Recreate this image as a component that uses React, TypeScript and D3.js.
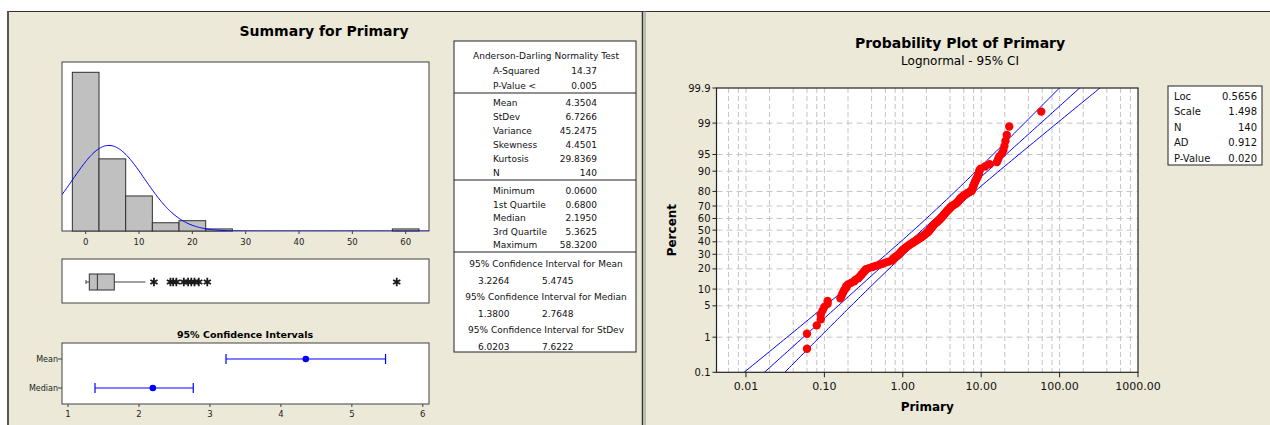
import React from 'react';
import * as d3 from 'd3';

const primary = [
  0.06, 0.06, 0.08, 0.09, 0.09, 0.095, 0.10, 0.11, 0.11, 0.16,
  0.165, 0.17, 0.175, 0.18, 0.19, 0.19, 0.20, 0.22, 0.24, 0.25,
  0.27, 0.28, 0.29, 0.30, 0.31, 0.32, 0.33, 0.34, 0.37, 0.41,
  0.45, 0.50, 0.55, 0.60, 0.66, 0.74, 0.74, 0.76, 0.79, 0.82,
  0.85, 0.88, 0.91, 0.93, 0.95, 0.97, 1.00, 1.03, 1.07, 1.10,
  1.14, 1.18, 1.22, 1.27, 1.32, 1.37, 1.42, 1.48, 1.54, 1.60,
  1.66, 1.72, 1.78, 1.84, 1.90, 1.96, 2.02, 2.08, 2.14, 2.18,
  2.21, 2.26, 2.30, 2.35, 2.40, 2.44, 2.48, 2.55, 2.62, 2.70,
  2.78, 2.86, 2.93, 3.00, 3.07, 3.14, 3.21, 3.28, 3.35, 3.42,
  3.50, 3.58, 3.66, 3.75, 3.85, 3.95, 4.05, 4.15, 4.30, 4.50,
  4.75, 4.90, 5.05, 5.18, 5.30, 5.38, 5.55, 5.75, 6.00, 6.30,
  6.60, 7.00, 7.55, 7.65, 7.75, 7.85, 7.95, 8.05, 8.20, 8.35,
  8.50, 8.70, 8.90, 9.10, 9.25, 9.40, 9.50, 9.80, 11.20, 12.80,
  15.90, 16.40, 17.00, 18.40, 19.20, 19.80, 20.40, 21.20, 22.80, 58.32,
];

const adLabels = ['A-Squared', 'P-Value <'];
const adValues = ['14.37', '0.005'];
const momentLabels = ['Mean', 'StDev', 'Variance', 'Skewness', 'Kurtosis', 'N'];
const momentValues = ['4.3504', '6.7266', '45.2475', '4.4501', '29.8369', '140'];
const quantLabels = ['Minimum', '1st Quartile', 'Median', '3rd Quartile', 'Maximum'];
const quantValues = ['0.0600', '0.6800', '2.1950', '5.3625', '58.3200'];
const ciTitles = ['95% Confidence Interval for Mean', '95% Confidence Interval for Median', '95% Confidence Interval for StDev'];
const ciLows = ['3.2264', '1.3800', '6.0203'];
const ciHighs = ['5.4745', '2.7648', '7.6222'];

const meanVal = 4.3504;
const sdVal = 6.7266;
const q1 = 0.68;
const medianVal = 2.195;
const q3 = 5.3625;

const intervalNames = ['Mean', 'Median'];
const intervalEst = [4.3504, 2.195];
const intervalLow = [3.2264, 1.38];
const intervalHigh = [5.4745, 2.7648];

const histTicks = [0, 10, 20, 30, 40, 50, 60];
const ciTicks = [1, 2, 3, 4, 5, 6];

const fitLoc = 0.5656;
const fitScale = 1.498;
const legendLabels = ['Loc', 'Scale', 'N', 'AD', 'P-Value'];
const legendValues = ['0.5656', '1.498', '140', '0.912', '0.020'];
const percentTicks = [0.1, 1, 5, 10, 20, 30, 40, 50, 60, 70, 80, 90, 95, 99, 99.9];
const logTicks = [0.01, 0.1, 1, 10, 100, 1000];
const logTickLabels = ['0.01', '0.10', '1.00', '10.00', '100.00', '1000.00'];
const gridMultiples = [2, 4, 6, 8, 10];

const BG = '#ECE9D8';
const FRAME = '#404040';
const FONT = 'DejaVu Sans';

// inverse standard normal cdf (Acklam)
function qnorm(p: number): number {
  const a = [-39.69683028665376, 220.9460984245205, -275.9285104469687, 138.357751867269, -30.66479806614716, 2.506628277459239];
  const b = [-54.47609879822406, 161.5858368580409, -155.6989798598866, 66.80131188771972, -13.28068155288572];
  const c = [-0.007784894002430293, -0.3223964580411365, -2.400758277161838, -2.549732539343734, 4.374664141464968, 2.938163982698783];
  const d = [0.007784695709041462, 0.3224671290700398, 2.445134137142996, 3.754408661907416];
  const pl = 0.02425;
  if (p < pl) {
    const q = Math.sqrt(-2 * Math.log(p));
    return (((((c[0] * q + c[1]) * q + c[2]) * q + c[3]) * q + c[4]) * q + c[5]) / ((((d[0] * q + d[1]) * q + d[2]) * q + d[3]) * q + 1);
  }
  if (p > 1 - pl) {
    const q = Math.sqrt(-2 * Math.log(1 - p));
    return -(((((c[0] * q + c[1]) * q + c[2]) * q + c[3]) * q + c[4]) * q + c[5]) / ((((d[0] * q + d[1]) * q + d[2]) * q + d[3]) * q + 1);
  }
  const q = p - 0.5;
  const r = q * q;
  return (((((a[0] * r + a[1]) * r + a[2]) * r + a[3]) * r + a[4]) * r + a[5]) * q / (((((b[0] * r + b[1]) * r + b[2]) * r + b[3]) * r + b[4]) * r + 1);
}

export default function App() {
  const n = primary.length;

  // ---------- summary panel ----------
  const hx0 = 62, hx1 = 429, hy0 = 62, hy1 = 231;
  const xHist = d3.scaleLinear().domain([-4.44, 64.37]).range([hx0, hx1]);
  const yHist = d3.scaleLinear().domain([0, 82]).range([hy1, hy0]);
  const bins = d3.bin().domain([-2.5, 62.5]).thresholds(d3.range(2.5, 60, 5))(primary);

  const normPdf = (x: number) => Math.exp(-0.5 * ((x - meanVal) / sdVal) ** 2) / (sdVal * Math.sqrt(2 * Math.PI));
  const curvePts = d3.range(-4.44, 64.4, 0.2).map((x) => [x, normPdf(x) * n * 5] as [number, number]);
  const curve = d3.line<[number, number]>().x((d) => xHist(d[0])).y((d) => yHist(d[1])).curve(d3.curveMonotoneX)(curvePts);

  const iqr = q3 - q1;
  const hiFence = q3 + 1.5 * iqr;
  const loFence = q1 - 1.5 * iqr;
  const inside = primary.filter((v) => v <= hiFence && v >= loFence);
  const whiskLo = d3.min(inside) as number;
  const whiskHi = d3.max(inside) as number;
  const outliers = primary.filter((v) => v > hiFence || v < loFence);
  const star = d3.symbol(d3.symbolAsterisk, 48)() as string;
  const bx0 = 259, bx1 = 303, bMid = 282;

  const cy0 = 343, cy1 = 404;
  const xCI = d3.scaleLinear().domain([0.915, 6.087]).range([hx0, hx1]);
  const yCI = d3.scalePoint().domain(intervalNames).range([359, 388]);

  // ---------- probability plot ----------
  const px0 = 716.5, px1 = 1138, py0 = 88, py1 = 372.3;
  const xP = d3.scaleLog().domain([Math.pow(10, -2.376), 1000]).range([px0, px1]);
  const zMax = -qnorm(0.001);
  const yP = d3.scaleLinear().domain([-zMax, zMax]).range([py1, py0]);
  const gridX: number[] = [];
  for (let k = -3; k <= 2; k++) {
    gridMultiples.forEach((m) => {
      const v = m * Math.pow(10, k);
      if (v > xP.domain()[0] && v < 999) gridX.push(v);
    });
  }
  const pts = primary.map((v, i) => ({ v, z: qnorm((i + 1 - 0.3) / (n + 0.4)) }));
  const zs = d3.range(-zMax - 0.2, zMax + 0.2, 0.05);
  const band = (k: number) =>
    d3.line<number>()
      .x((z) => xP(Math.exp(fitLoc + fitScale * z + k * 1.96 * fitScale * Math.sqrt((1 + (z * z) / 2) / n))))
      .y((z) => yP(z))(zs);

  return (
    <div style={{ position: 'absolute', left: 0, top: 0 }}>
      <svg width={1270} height={425} style={{ display: 'block', fontFamily: FONT }}>
        <defs>
          <clipPath id="probClip">
            <rect x={px0} y={py0} width={px1 - px0} height={py1 - py0} />
          </clipPath>
          <clipPath id="histClip">
            <rect x={hx0} y={hy0} width={hx1 - hx0} height={hy1 - hy0} />
          </clipPath>
        </defs>
        <rect x={0} y={0} width={1270} height={425} fill="#ffffff" />
        <rect x={8} y={11} width={1262} height={414} fill={BG} />
        <line x1={7} x2={1270} y1={11.5} y2={11.5} stroke="#333" strokeWidth={1.2} />
        <line x1={8} x2={8} y1={11} y2={425} stroke="#555" strokeWidth={2} />
        <line x1={642.5} x2={642.5} y1={11} y2={425} stroke="#333" strokeWidth={1.5} />
        <line x1={645} x2={645} y1={11} y2={425} stroke="#8a8a8a" strokeWidth={1} />

        {/* Summary title */}
        <text x={324} y={31} textAnchor="middle" dominantBaseline="central" fontSize={14} fontWeight="bold">Summary for Primary</text>

        {/* histogram */}
        <rect x={hx0} y={hy0} width={hx1 - hx0} height={hy1 - hy0} fill="#fff" stroke={FRAME} />
        {bins.map((b, i) => (
          <rect key={i} x={xHist(b.x0 as number)} y={yHist(b.length)} width={xHist(b.x1 as number) - xHist(b.x0 as number)}
            height={yHist(0) - yHist(b.length)} fill="#C0C0C0" stroke="#303030" strokeWidth={1} />
        ))}
        <path d={curve as string} fill="none" stroke="#0000FF" strokeWidth={1} clipPath="url(#histClip)" />
        {histTicks.map((t) => (
          <g key={t}>
            <line x1={xHist(t)} x2={xHist(t)} y1={hy1} y2={hy1 + 3} stroke={FRAME} />
            <text x={xHist(t)} y={hy1 + 11} textAnchor="middle" dominantBaseline="central" fontSize={8.5} fill="#222">{t}</text>
          </g>
        ))}

        {/* boxplot */}
        <rect x={hx0} y={bx0} width={hx1 - hx0} height={bx1 - bx0} fill="#fff" stroke={FRAME} />
        <line x1={xHist(whiskLo)} x2={xHist(q1)} y1={bMid} y2={bMid} stroke="#404040" />
        <line x1={xHist(q3)} x2={xHist(whiskHi)} y1={bMid} y2={bMid} stroke="#404040" />
        <line x1={xHist(whiskLo)} x2={xHist(whiskLo)} y1={bMid - 2} y2={bMid + 2} stroke="#404040" />
        <rect x={xHist(q1)} y={bMid - 8} width={xHist(q3) - xHist(q1)} height={16} fill="#C0C0C0" stroke="#303030" />
        <line x1={xHist(medianVal)} x2={xHist(medianVal)} y1={bMid - 8} y2={bMid + 8} stroke="#303030" />
        {outliers.map((v, i) => (
          <path key={i} d={star} transform={`translate(${xHist(v)},${bMid})`} fill="none" stroke="#1a1a1a" strokeWidth={1.8} />
        ))}

        {/* confidence intervals */}
        <text x={245} y={334} textAnchor="middle" dominantBaseline="central" fontSize={9.5} fontWeight="bold">95% Confidence Intervals</text>
        <rect x={hx0} y={cy0} width={hx1 - hx0} height={cy1 - cy0} fill="#fff" stroke={FRAME} />
        {intervalNames.map((name, i) => {
          const y = yCI(name) as number;
          return (
            <g key={name}>
              <line x1={hx0 - 4} x2={hx0} y1={y} y2={y} stroke={FRAME} />
              <text x={hx0 - 4} y={y} textAnchor="end" dominantBaseline="central" fontSize={8} fill="#222">{name}</text>
              <line x1={xCI(intervalLow[i])} x2={xCI(intervalHigh[i])} y1={y} y2={y} stroke="#0000FF" strokeWidth={1.2} />
              <line x1={xCI(intervalLow[i])} x2={xCI(intervalLow[i])} y1={y - 5} y2={y + 5} stroke="#0000FF" strokeWidth={1.2} />
              <line x1={xCI(intervalHigh[i])} x2={xCI(intervalHigh[i])} y1={y - 5} y2={y + 5} stroke="#0000FF" strokeWidth={1.2} />
              <circle cx={xCI(intervalEst[i])} cy={y} r={3.3} fill="#0000FF" />
            </g>
          );
        })}
        {ciTicks.map((t) => (
          <g key={t}>
            <line x1={xCI(t)} x2={xCI(t)} y1={cy1} y2={cy1 + 3} stroke={FRAME} />
            <text x={xCI(t)} y={cy1 + 10} textAnchor="middle" dominantBaseline="central" fontSize={8.5} fill="#222">{t}</text>
          </g>
        ))}

        {/* statistics table */}
        <g fontSize={9} fill="#111">
          <rect x={454} y={41} width={182} height={311} fill="#fff" stroke="#222" />
          <line x1={454} x2={636} y1={93} y2={93} stroke="#222" />
          <line x1={454} x2={636} y1={180} y2={180} stroke="#222" />
          <line x1={454} x2={636} y1={252} y2={252} stroke="#222" />
          <text x={546} y={56} textAnchor="middle" dominantBaseline="central">Anderson-Darling Normality Test</text>
          {adLabels.map((l, i) => (
            <g key={l}>
              <text x={493} y={71 + i * 15} dominantBaseline="central">{l}</text>
              <text x={597} y={71 + i * 15} textAnchor="end" dominantBaseline="central">{adValues[i]}</text>
            </g>
          ))}
          {momentLabels.map((l, i) => (
            <g key={l}>
              <text x={493} y={103 + i * 14} dominantBaseline="central">{l}</text>
              <text x={597} y={103 + i * 14} textAnchor="end" dominantBaseline="central">{momentValues[i]}</text>
            </g>
          ))}
          {quantLabels.map((l, i) => (
            <g key={l}>
              <text x={493} y={191 + i * 13.5} dominantBaseline="central">{l}</text>
              <text x={597} y={191 + i * 13.5} textAnchor="end" dominantBaseline="central">{quantValues[i]}</text>
            </g>
          ))}
          {ciTitles.map((t, i) => (
            <g key={t}>
              <text x={546} y={264 + i * 33} textAnchor="middle" dominantBaseline="central">{t}</text>
              <text x={478} y={281 + i * 33} dominantBaseline="central">{ciLows[i]}</text>
              <text x={542} y={281 + i * 33} dominantBaseline="central">{ciHighs[i]}</text>
            </g>
          ))}
        </g>

        {/* probability plot */}
        <text x={960} y={43} textAnchor="middle" dominantBaseline="central" fontSize={14} fontWeight="bold">Probability Plot of Primary</text>
        <text x={960} y={61} textAnchor="middle" dominantBaseline="central" fontSize={12}>Lognormal - 95% CI</text>
        <rect x={px0} y={py0} width={px1 - px0} height={py1 - py0} fill="#fff" />
        {gridX.map((v) => (
          <line key={v} x1={xP(v)} x2={xP(v)} y1={py0} y2={py1} stroke="#C4C4C4" strokeDasharray="5,3" />
        ))}
        {percentTicks.slice(1, -1).map((p) => (
          <line key={p} x1={px0} x2={px1} y1={yP(qnorm(p / 100))} y2={yP(qnorm(p / 100))} stroke="#C4C4C4" strokeDasharray="6,4" />
        ))}
        <g clipPath="url(#probClip)" fill="none" stroke="#0000FF" strokeWidth={1}>
          <path d={band(-1) as string} />
          <path d={band(0) as string} />
          <path d={band(1) as string} />
        </g>
        {pts.map((d, i) => (
          <circle key={i} cx={xP(d.v)} cy={yP(d.z)} r={4.2} fill="#FF0000" />
        ))}
        <rect x={px0} y={py0} width={px1 - px0} height={py1 - py0} fill="none" stroke="#222" strokeWidth={1.2} />
        {percentTicks.map((p) => (
          <g key={p}>
            <line x1={px0 - 4} x2={px0} y1={yP(qnorm(p / 100))} y2={yP(qnorm(p / 100))} stroke="#222" />
            <text x={px0 - 6} y={yP(qnorm(p / 100))} textAnchor="end" dominantBaseline="central" fontSize={10} fill="#111">{p}</text>
          </g>
        ))}
        {logTicks.map((t, i) => (
          <g key={t}>
            <line x1={xP(t)} x2={xP(t)} y1={py1} y2={py1 + 5} stroke="#222" />
            <text x={xP(t)} y={py1 + 14} textAnchor="middle" dominantBaseline="central" fontSize={11} fill="#111">{logTickLabels[i]}</text>
          </g>
        ))}
        <text x={(px0 + px1) / 2} y={407} textAnchor="middle" dominantBaseline="central" fontSize={12} fontWeight="bold">Primary</text>
        <text transform={`translate(672,${(py0 + py1) / 2}) rotate(-90)`} textAnchor="middle" dominantBaseline="central" fontSize={12} fontWeight="bold">Percent</text>

        {/* legend */}
        <rect x={1168} y={86} width={94} height={79} fill="#fff" stroke="#222" />
        {legendLabels.map((l, i) => (
          <g key={l} fontSize={10} fill="#111">
            <text x={1174} y={96 + i * 15.5} dominantBaseline="central">{l}</text>
            <text x={1257} y={96 + i * 15.5} textAnchor="end" dominantBaseline="central">{legendValues[i]}</text>
          </g>
        ))}
      </svg>
    </div>
  );
}
